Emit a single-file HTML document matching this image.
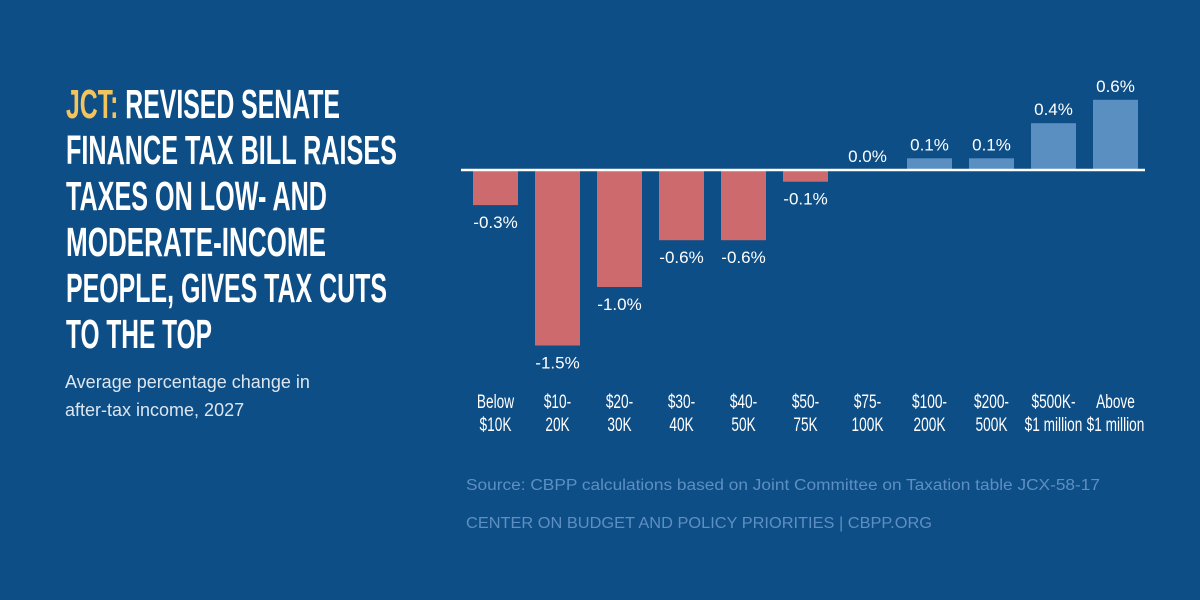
<!DOCTYPE html>
<html><head><meta charset="utf-8"><style>
html,body{margin:0;padding:0;background:#0e4e86;}
svg{display:block}
</style></head><body>
<svg width="1200" height="600" viewBox="0 0 1200 600">
<rect width="1200" height="600" fill="#0e4e86"/>
<g font-family="'Liberation Sans Narrow','Liberation Sans',sans-serif" font-weight="bold" font-size="41" fill="#ffffff">
<text x="66" y="118" textLength="274" lengthAdjust="spacingAndGlyphs"><tspan fill="#f5c35c">JCT:</tspan> REVISED SENATE</text>
<text x="66" y="164" textLength="331" lengthAdjust="spacingAndGlyphs">FINANCE TAX BILL RAISES</text>
<text x="66" y="210" textLength="261" lengthAdjust="spacingAndGlyphs">TAXES ON LOW- AND</text>
<text x="66" y="256" textLength="260" lengthAdjust="spacingAndGlyphs">MODERATE-INCOME</text>
<text x="66" y="302" textLength="321" lengthAdjust="spacingAndGlyphs">PEOPLE, GIVES TAX CUTS</text>
<text x="66" y="348" textLength="146" lengthAdjust="spacingAndGlyphs">TO THE TOP</text>
</g>
<g font-family="'Liberation Sans',sans-serif" font-size="18" fill="#dce6f1">
<text x="65" y="388">Average percentage change in</text>
<text x="65" y="416">after-tax income, 2027</text>
</g>
<g id="chart"></g>
<text x="466" y="490" font-family="'Liberation Sans',sans-serif" font-size="15.5" fill="#5e8fc2" textLength="634" lengthAdjust="spacingAndGlyphs">Source: CBPP calculations based on Joint Committee on Taxation table JCX-58-17</text>
<text x="466" y="528" font-family="'Liberation Sans',sans-serif" font-size="15.5" fill="#5e8fc2" textLength="466" lengthAdjust="spacingAndGlyphs">CENTER ON BUDGET AND POLICY PRIORITIES | CBPP.ORG</text>
</svg>
<script>
const categoriesLine1 = ["Below","$10-","$20-","$30-","$40-","$50-","$75-","$100-","$200-","$500K-","Above"];
const categoriesLine2 = ["$10K","20K","30K","40K","50K","75K","100K","200K","500K","$1 million","$1 million"];
const values = [-0.3,-1.5,-1.0,-0.6,-0.6,-0.1,0.0,0.1,0.1,0.4,0.6];
const valueLabels = ["-0.3%","-1.5%","-1.0%","-0.6%","-0.6%","-0.1%","0.0%","0.1%","0.1%","0.4%","0.6%"];

const NS = "http://www.w3.org/2000/svg";
const g = document.getElementById("chart");
const baseY = 170, pxPer = 117, x0 = 495.5, pitch = 62, bw = 45;
const xScale = i => x0 + i * pitch;
const yScale = v => baseY - v * pxPer;
function mk(tag, attrs){ const e = document.createElementNS(NS, tag); for (const k in attrs) e.setAttribute(k, attrs[k]); g.appendChild(e); return e; }
values.forEach((v, i) => {
  const cx = xScale(i), y = yScale(v);
  const top = Math.min(y, baseY), h = Math.abs(y - baseY);
  const r = mk("rect", {x: cx - bw/2, y: top, width: bw, height: h, fill: v < 0 ? "#cd6a6e" : "#5a8fc2"});
  
  
  const ly = v < 0 ? y + 23 : y - 8;
  const t = mk("text", {x: cx, y: ly, "text-anchor": "middle", "font-family": "'Liberation Sans',sans-serif", "font-size": "17", fill: "#ffffff"});
  t.textContent = valueLabels[i];
  
  
  [categoriesLine1[i], categoriesLine2[i]].forEach((s, j) => {
    const c = mk("text", {x: 0, y: 0, transform: "translate(" + cx + "," + (408 + j * 23) + ") scale(0.7,1)", "text-anchor": "middle", "font-family": "'Liberation Sans',sans-serif", "font-size": "19.5", fill: "#ffffff"});
    c.textContent = s;
    
    
  });
});
const axis = mk("line", {x1: 461, x2: 1145, y1: baseY, y2: baseY, stroke: "#ffffff", "stroke-width": 2.5});


</script>
</body></html>
